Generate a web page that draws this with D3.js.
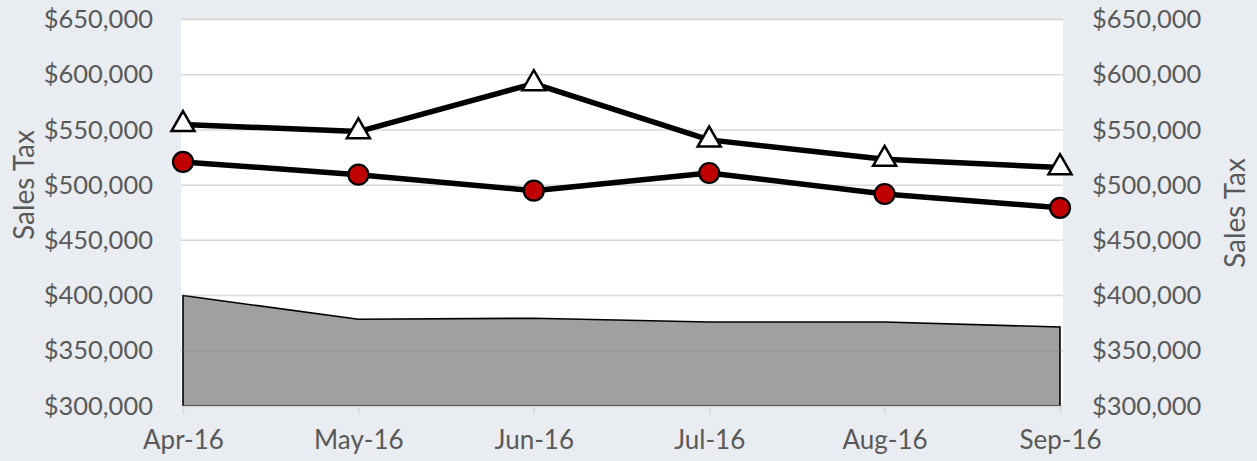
<!DOCTYPE html>
<html>
<head>
<meta charset="utf-8">
<script src="https://cdn.jsdelivr.net/npm/d3@7"></script>
<style>
  body { margin: 0; background: #e9ecf1; }
  text { font-family: Lato, "Open Sans", sans-serif; fill: #595959; }
</style>
</head>
<body>
<svg id="chart"></svg>
<script>
const months = ["Apr-16", "May-16", "Jun-16", "Jul-16", "Aug-16", "Sep-16"];
const seriesTriangle = [555000, 548500, 592000, 541000, 523500, 516000];
const seriesCircle = [521000, 509500, 495000, 511000, 492000, 479500];
const seriesArea = [400000, 378500, 379500, 376000, 376000, 371500];
const yTicks = [300000, 350000, 400000, 450000, 500000, 550000, 600000, 650000];

// Chart dimensions
const width = 1257;
const height = 461;
const plotLeft = 181;
const plotRight = 1063;
const plotTop = 19.5;
const plotBottom = 406;

const svg = d3.select("#chart")
    .attr("width", width)
    .attr("height", height);

const xScale = d3.scalePoint()
    .domain(months)
    .range([183, 1060]);

const yScale = d3.scaleLinear()
    .domain([300000, 650000])
    .range([plotBottom, plotTop]);

const fmt = d => "$" + d3.format(",")(d);

// plot background
svg.append("rect")
    .attr("x", plotLeft)
    .attr("y", plotTop)
    .attr("width", plotRight - plotLeft)
    .attr("height", plotBottom - plotTop)
    .attr("fill", "#ffffff");

// area series
const area = d3.area()
    .x((d, i) => xScale(months[i]))
    .y0(yScale(300000))
    .y1(d => yScale(d));

svg.append("path")
    .datum(seriesArea)
    .attr("d", area)
    .attr("fill", "#a0a0a0")
    .attr("stroke", "#000")
    .attr("stroke-width", 1.6);

// gridlines on top of the area so they show through
svg.append("g")
    .selectAll("line")
    .data(yTicks.slice(1))
    .join("line")
    .attr("x1", plotLeft)
    .attr("x2", plotRight)
    .attr("y1", d => yScale(d))
    .attr("y2", d => yScale(d))
    .attr("stroke", "rgba(128,128,128,0.3)")
    .attr("stroke-width", 1.5);

// x axis
const xAxis = svg.append("g")
    .attr("transform", `translate(0,${plotBottom})`)
    .call(d3.axisBottom(xScale).tickSize(8).tickPadding(17));
xAxis.select(".domain")
    .attr("d", `M${plotLeft},0.5H${plotRight}`)
    .attr("stroke", "#d9d9d9")
    .attr("stroke-width", 1.5);
xAxis.selectAll(".tick line").attr("stroke", "#d9d9d9").attr("stroke-width", 1.5);
xAxis.selectAll(".tick text")
    .attr("font-size", 26)
    .style("font-family", "Lato, sans-serif")
    .attr("fill", "#595959");

// y axes, left and right
const leftAxis = svg.append("g")
    .attr("transform", `translate(${plotLeft},0)`)
    .call(d3.axisLeft(yScale).tickValues(yTicks).tickFormat(fmt).tickSize(0).tickPadding(28));
const rightAxis = svg.append("g")
    .attr("transform", `translate(${plotRight},0)`)
    .call(d3.axisRight(yScale).tickValues(yTicks).tickFormat(fmt).tickSize(0).tickPadding(29));
[leftAxis, rightAxis].forEach(ax => {
  ax.select(".domain").remove();
  ax.selectAll(".tick text")
    .attr("font-size", 25.5)
    .style("font-family", "Lato, sans-serif")
    .attr("fill", "#595959");
});

// axis titles
svg.append("text")
    .attr("transform", "translate(34,185) rotate(-90)")
    .attr("text-anchor", "middle")
    .attr("font-size", 28)
    .text("Sales Tax");
svg.append("text")
    .attr("transform", "translate(1245,213) rotate(-90)")
    .attr("text-anchor", "middle")
    .attr("font-size", 28)
    .text("Sales Tax");

// lines
const line = d3.line()
    .x((d, i) => xScale(months[i]))
    .y(d => yScale(d));

[seriesTriangle, seriesCircle].forEach(s => {
  svg.append("path")
      .datum(s)
      .attr("d", line)
      .attr("fill", "none")
      .attr("stroke", "#000")
      .attr("stroke-width", 5.5)
      .attr("stroke-linejoin", "round");
});

// markers
svg.append("g")
    .selectAll("path")
    .data(seriesTriangle)
    .join("path")
    .attr("transform", (d, i) => `translate(${xScale(months[i])},${yScale(d)})`)
    .attr("d", d3.symbol(d3.symbolTriangle, 230))
    .attr("fill", "#fff")
    .attr("stroke", "#000")
    .attr("stroke-width", 2.5);

svg.append("g")
    .selectAll("circle")
    .data(seriesCircle)
    .join("circle")
    .attr("cx", (d, i) => xScale(months[i]))
    .attr("cy", d => yScale(d))
    .attr("r", 10)
    .attr("fill", "#c00000")
    .attr("stroke", "#000")
    .attr("stroke-width", 2.2);
</script>
</body>
</html>
